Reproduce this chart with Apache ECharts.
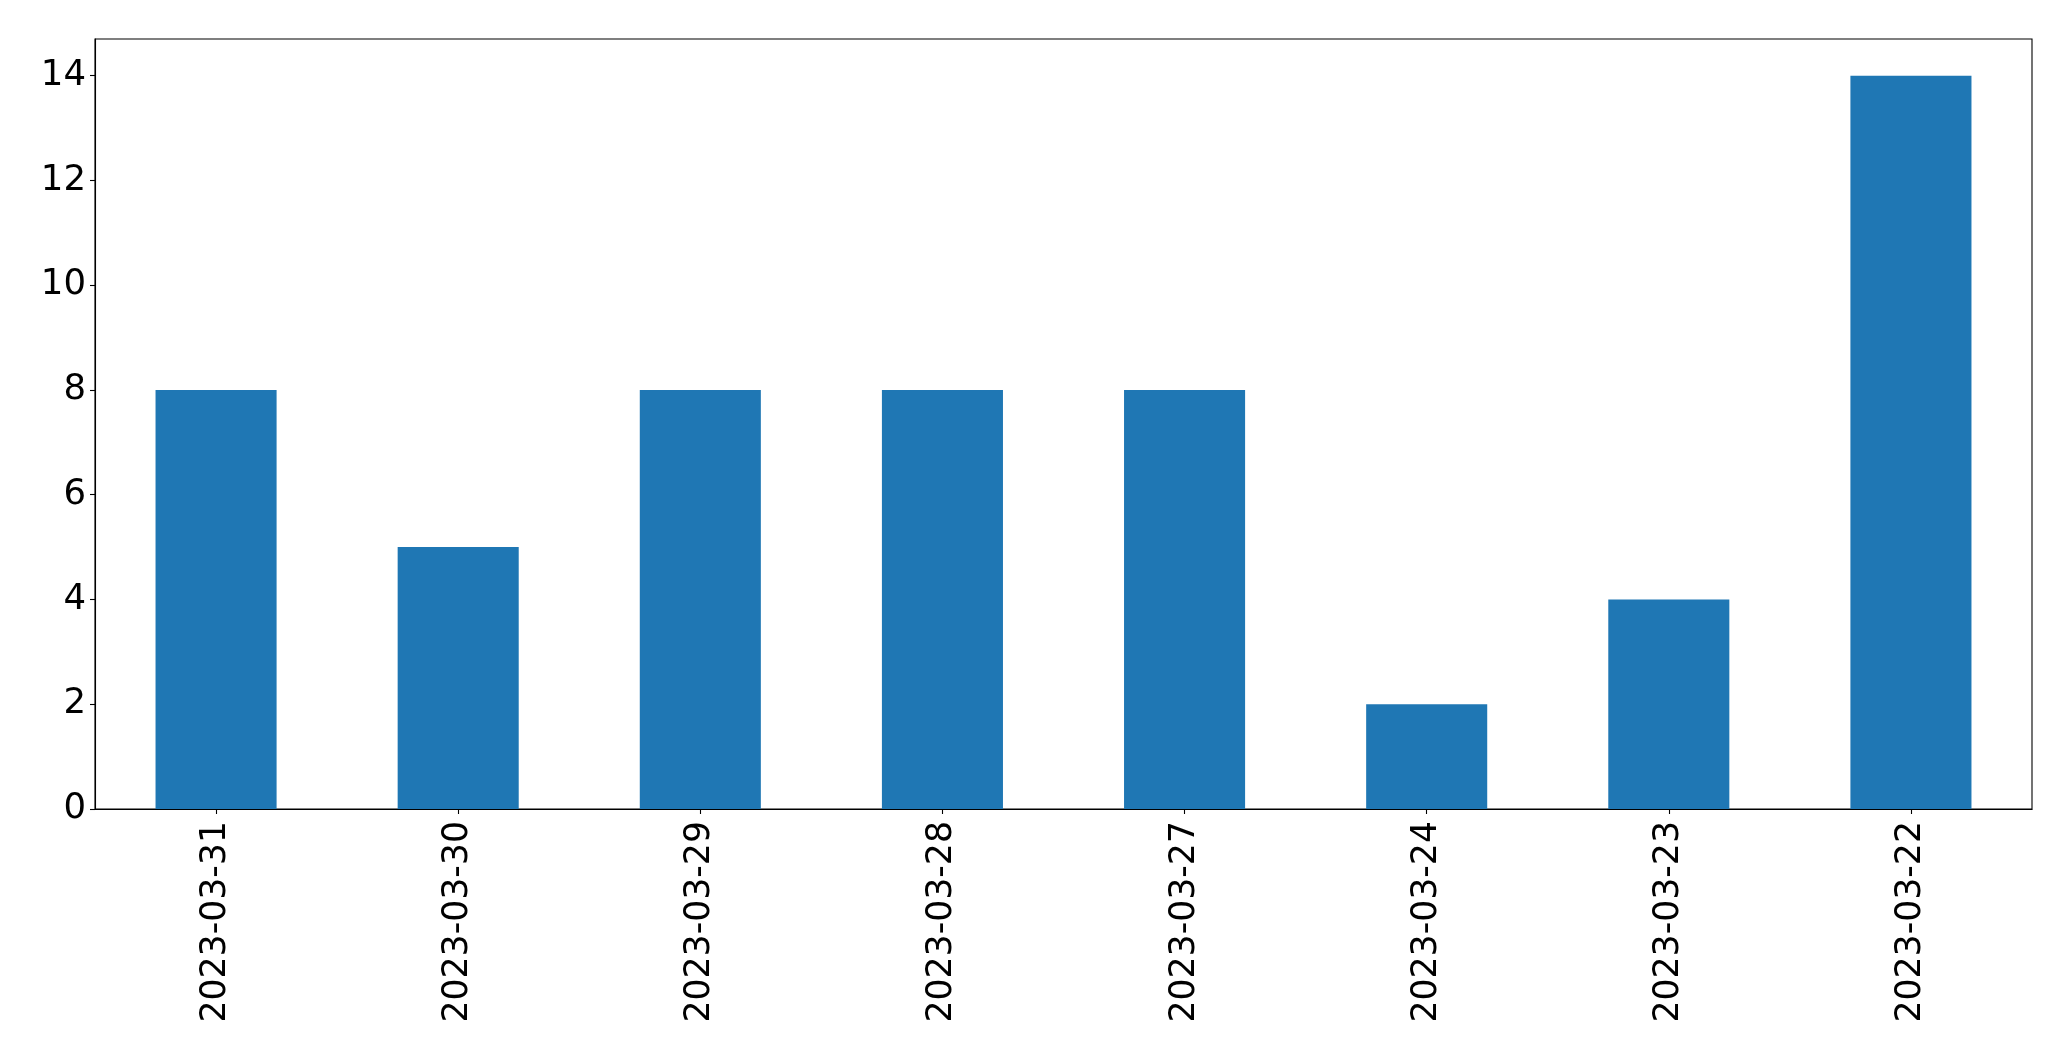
<!DOCTYPE html>
<html>
<head>
<meta charset="utf-8">
<script src="https://cdn.jsdelivr.net/npm/echarts@6/dist/echarts.min.js"></script>
<style>
html,body{margin:0;padding:0;background:#fff;}
#chart{width:2071px;height:1061px;}
</style>
</head>
<body>
<div id="chart"></div>
<script>
const categories = ['2023-03-31','2023-03-30','2023-03-29','2023-03-28','2023-03-27','2023-03-24','2023-03-23','2023-03-22'];
const values = [8, 5, 8, 8, 8, 2, 4, 14];
const yTicks = [0, 2, 4, 6, 8, 10, 12, 14];

const chart = echarts.init(document.getElementById('chart'), null, {renderer: 'canvas'});
const font = 'DejaVu Sans';
chart.setOption({
  animation: false,
  backgroundColor: '#ffffff',
  grid: {left: 95, top: 39, width: 1937, height: 770, show: true, borderColor: '#000', borderWidth: 1.1, backgroundColor: 'transparent'},
  xAxis: {
    type: 'category',
    data: categories,
    boundaryGap: true,
    axisLine: {show: true, lineStyle: {color: '#000', width: 1.1}},
    axisTick: {show: true, alignWithLabel: true, length: 5, lineStyle: {color: '#000', width: 1.1}},
    axisLabel: {rotate: 90, fontFamily: font, fontSize: 34.7, color: '#000', margin: 12, interval: 0},
    splitLine: {show: false}
  },
  yAxis: {
    type: 'value',
    min: 0,
    max: 14.7,
    interval: 2,
    axisLine: {show: true, lineStyle: {color: '#000', width: 1.1}},
    axisTick: {show: true, length: 5, lineStyle: {color: '#000', width: 1.1}},
    axisLabel: {fontFamily: font, fontSize: 35.5, color: '#000', margin: 9, showMaxLabel: false,
      formatter: v => yTicks.includes(v) ? String(v) : ''},
    splitLine: {show: false}
  },
  series: [{
    type: 'bar',
    data: values,
    barWidth: '50%',
    itemStyle: {color: '#1f77b4'}
  }]
});
</script>
</body>
</html>
